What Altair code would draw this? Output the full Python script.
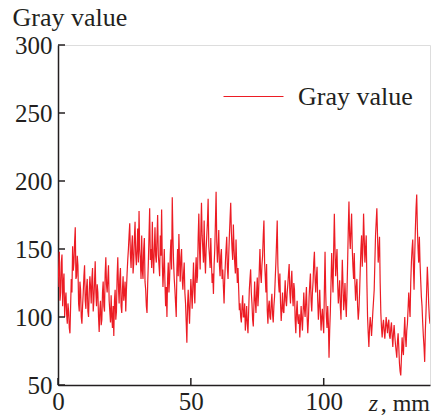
import altair as alt
import pandas as pd

gray = [
    122, 135, 148, 112, 118, 140, 146, 108, 125, 132, 100, 112, 118, 102, 95, 110, 104, 92, 88, 108,
    128, 118, 152, 134, 140, 155, 166, 128, 130, 145, 138, 110, 104, 126, 120, 100, 95, 108, 118, 130,
    138, 112, 106, 122, 128, 104, 100, 118, 130, 122, 110, 128, 136, 104, 112, 126, 141, 118, 108, 124,
    118, 100, 89, 106, 112, 94, 98, 118, 126, 108, 104, 132, 144, 124, 118, 128, 138, 112, 104, 96,
    116, 100, 92, 108, 86, 112, 120, 98, 104, 130, 144, 122, 110, 128, 136, 108, 103, 120, 130, 112,
    118, 126, 104, 120, 132, 142, 150, 160, 169, 146, 136, 152, 160, 132, 140, 158, 170, 146, 138, 150,
    165, 140, 178, 150, 142, 128, 160, 134, 128, 150, 158, 126, 120, 108, 103, 124, 140, 160, 180, 142,
    150, 136, 170, 144, 132, 150, 166, 145, 140, 158, 175, 146, 138, 130, 160, 145, 179, 140, 122, 135,
    150, 125, 108, 122, 100, 128, 140, 118, 128, 146, 157, 135, 188, 160, 140, 128, 120, 110, 100, 135,
    150, 130, 161, 140, 126, 144, 150, 128, 120, 132, 140, 118, 110, 96, 81, 108, 120, 106, 95, 112,
    128, 118, 106, 124, 140, 120, 110, 132, 144, 125, 130, 158, 176, 150, 135, 162, 184, 160, 150, 140,
    171, 145, 132, 150, 160, 170, 187, 152, 145, 136, 158, 140, 125, 132, 117, 138, 150, 170, 192, 155,
    140, 150, 164, 138, 130, 145, 150, 128, 135, 122, 110, 128, 140, 150, 159, 136, 128, 145, 160, 172,
    184, 162, 150, 142, 168, 150, 140, 132, 157, 138, 125, 136, 120, 105, 110, 100, 96, 108, 116, 100,
    100, 110, 90, 98, 108, 95, 88, 104, 120, 128, 135, 118, 110, 98, 93, 110, 126, 112, 103, 118,
    129, 108, 118, 135, 150, 132, 125, 138, 145, 160, 171, 140, 130, 118, 139, 105, 95, 108, 112, 100,
    98, 110, 117, 102, 96, 108, 115, 128, 140, 155, 171, 138, 125, 118, 132, 110, 97, 106, 118, 104,
    103, 115, 127, 112, 108, 118, 124, 132, 139, 118, 110, 126, 134, 116, 108, 125, 120, 98, 88, 104,
    112, 98, 95, 102, 85, 96, 108, 98, 90, 104, 118, 106, 100, 112, 122, 100, 88, 98, 115, 124,
    132, 112, 104, 118, 126, 140, 148, 128, 118, 130, 137, 112, 98, 108, 120, 104, 90, 100, 106, 95,
    88, 120, 148, 118, 100, 92, 108, 96, 70, 90, 104, 125, 147, 130, 118, 150, 176, 150, 130, 140,
    150, 125, 110, 118, 127, 108, 98, 120, 142, 125, 105, 112, 125, 110, 100, 118, 140, 165, 185, 160,
    150, 165, 176, 150, 137, 128, 147, 125, 112, 122, 128, 108, 98, 105, 118, 135, 150, 160, 137, 150,
    176, 158, 140, 150, 160, 125, 100, 88, 78, 92, 100, 94, 86, 95, 104, 112, 120, 140, 160, 170,
    180, 160, 140, 148, 159, 125, 103, 92, 85, 94, 98, 90, 84, 92, 100, 94, 88, 95, 98, 86,
    84, 92, 96, 86, 78, 88, 94, 86, 80, 75, 70, 82, 88, 78, 66, 60, 57, 70, 85, 76,
    72, 88, 100, 86, 78, 90, 95, 106, 118, 108, 100, 125, 140, 150, 157, 138, 120, 145, 165, 180,
    190, 165, 150, 140, 159, 140, 127, 115, 108, 96, 86, 78, 67, 90, 104, 120, 137, 125, 110, 100, 95,
]
z_step = 0.25
z = [i * z_step for i in range(len(gray))]

x_ticks = [0, 50, 100]
y_ticks = [50, 100, 150, 200, 250, 300]
series_name = "Gray value"

FONT = "Liberation Serif"
INK = "#231f20"
RED = "#ec1c24"
W, H = 372, 340

df = pd.DataFrame({"z": z, "gray": gray, "series": series_name})
xt = pd.DataFrame({"t": x_ticks})
yt = pd.DataFrame({"t": y_ticks})

xscale = alt.Scale(domain=[0, 140], nice=False, zero=False)
yscale = alt.Scale(domain=[50, 300], nice=False, zero=False)

line = alt.Chart(df).mark_line(strokeWidth=1.2, clip=True).encode(
    x=alt.X("z:Q", scale=xscale,
            axis=alt.Axis(values=x_ticks, title="", tickSize=0, labelPadding=4,
                          labelFont=FONT, labelFontSize=25, labelColor=INK,
                          domainColor=INK, domainWidth=1.5, grid=False,
                          labelFlush=False)),
    y=alt.Y("gray:Q", scale=yscale,
            axis=alt.Axis(values=y_ticks, title="Gray value", titleAngle=0,
                          titleAlign="left", titleBaseline="alphabetic",
                          titleX=-46, titleY=-20, titleFont=FONT, titleFontSize=26,
                          titleFontWeight="normal", titleColor=INK,
                          tickSize=0, labelPadding=6, labelFont=FONT,
                          labelFontSize=25, labelColor=INK, labelBaseline="middle",
                          domainColor=INK, domainWidth=1.5, grid=False,
                          labelFlush=False)),
    color=alt.Color("series:N", scale=alt.Scale(range=[RED]),
                    legend=alt.Legend(title=None, orient="none", legendX=165, legendY=21,
                                      symbolType="stroke", symbolSize=3600,
                                      symbolStrokeWidth=1, labelFont=FONT,
                                      labelFontSize=26, labelColor=INK,
                                      labelOffset=14, padding=0)),
)

xtick_rules = alt.Chart(xt).mark_rule(color=INK, strokeWidth=1.5).encode(
    x=alt.X("t:Q", scale=xscale), y=alt.value(H), y2=alt.value(H - 7)
)
ytick_rules = alt.Chart(yt).mark_rule(color=INK, strokeWidth=1.5).encode(
    y=alt.Y("t:Q", scale=yscale), x=alt.value(0), x2=alt.value(7)
)

xlabel_z = alt.Chart(pd.DataFrame({"s": ["z"]})).mark_text(
    font=FONT, fontSize=24, fontStyle="italic", color=INK, align="right",
    baseline="alphabetic"
).encode(text="s:N", x=alt.value(320), y=alt.value(366))
xlabel_mm = alt.Chart(pd.DataFrame({"s": [", mm"]})).mark_text(
    font=FONT, fontSize=24, color=INK, align="right", baseline="alphabetic"
).encode(text="s:N", x=alt.value(372), y=alt.value(366))

chart = alt.layer(line, xtick_rules, ytick_rules, xlabel_z, xlabel_mm).properties(
    width=W, height=H,
    autosize=alt.AutoSizeParams(type="none"),
    padding={"left": 58, "top": 45, "right": 9, "bottom": 31},
).configure_view(stroke=None).configure(font=FONT)

chart.save("out.html", embed_options={"renderer": "svg", "actions": False})
